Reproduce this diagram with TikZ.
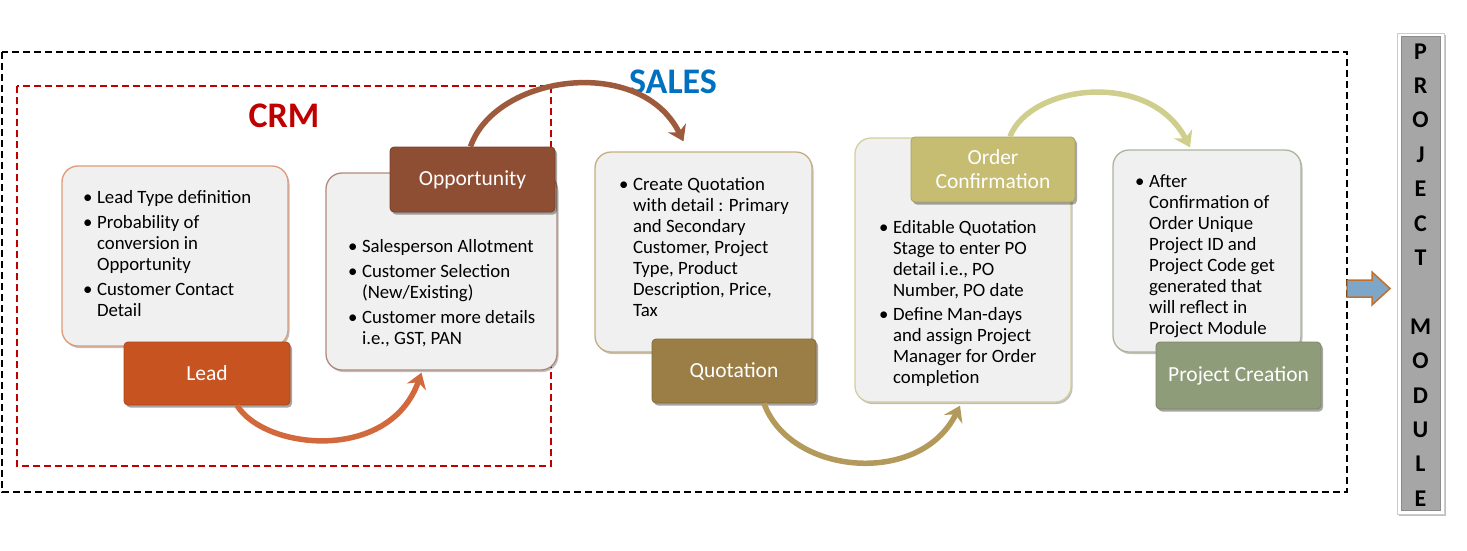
\documentclass[tikz,border=0pt]{standalone}
\usepackage{fontspec}
\setmainfont{Carlito}
\usetikzlibrary{arrows.meta,shadows}
\definecolor{boxgray}{HTML}{F0F0F0}
\definecolor{crmred}{HTML}{C00000}
\definecolor{salesblue}{HTML}{0070C0}
\definecolor{leadc}{HTML}{C75320}
\definecolor{leadb}{HTML}{DE9A78}
\definecolor{oppc}{HTML}{8E4E33}
\definecolor{oppb}{HTML}{B08A78}
\definecolor{quoc}{HTML}{9B7D46}
\definecolor{quob}{HTML}{C6AE7C}
\definecolor{ordc}{HTML}{C6BD72}
\definecolor{ordb}{HTML}{D6CE9E}
\definecolor{prjc}{HTML}{8F9C7A}
\definecolor{prjb}{HTML}{A9B59A}
\definecolor{arc1}{HTML}{D2693C}
\definecolor{arc2}{HTML}{9E5A3C}
\definecolor{arc3}{HTML}{B39A5A}
\definecolor{arc4}{HTML}{D0CE8C}
\definecolor{arrblue}{HTML}{7EA6C8}
\definecolor{arrorange}{HTML}{C0712D}
\definecolor{pmgray}{HTML}{A6A6A6}
\begin{document}
\begin{tikzpicture}[x=1pt,y=-1pt,
  detail/.style={draw=#1, fill=boxgray, line width=1.3pt, rounded corners=16pt, inner sep=0pt,
    drop shadow={shadow xshift=1.5pt, shadow yshift=-2pt, opacity=0.25, fill=black}},
  stage/.style={fill=#1, draw=#1!85!black, line width=0.8pt, rounded corners=4pt, text=white,
    inner sep=0pt, align=center, font=\fontsize{21.5}{24}\selectfont,
    drop shadow={shadow xshift=2pt, shadow yshift=-2.5pt, opacity=0.35, fill=black}},
  txt/.style={anchor=north west, inner sep=0pt, font=\fontsize{18.8}{21}\selectfont},
  flow/.style={draw=#1, line width=5.5pt, -{Stealth[length=15pt,width=20pt]}},
  title/.style={font=\fontsize{36}{40}\selectfont\bfseries, inner sep=0pt}]
\useasboundingbox (0,0) rectangle (1467,550);

% frames
\draw[line width=1.8pt, dash pattern=on 7pt off 4pt] (2,52) rectangle (1347,492);
\draw[crmred, line width=1.5pt, dash pattern=on 7pt off 4pt] (17,86) rectangle (551,466);

\node[title, text=crmred] (crm) at (284,116) {CRM};
\node[title, text=salesblue] (sales) at (673,82) {SALES};

% Lead
\node[detail=leadb, minimum width=226pt, minimum height=180pt] (leaddet) at (175,256) {};
\node[txt] (leadtxt) at (83,189) {\begin{tabular}{@{}c@{\hspace{4.5pt}}l@{}}
\textbullet & Lead Type definition\\[4pt]
\textbullet & Probability of\\ & conversion in\\ & Opportunity\\[4pt]
\textbullet & Customer Contact\\ & Detail
\end{tabular}};
\node[stage=leadc, minimum width=166pt, minimum height=63pt] (leadlab) at (207,373.5) {Lead};

% Opportunity
\node[detail=oppb, minimum width=231pt, minimum height=197pt] (oppdet) at (441.5,271.5) {};
\node[txt] (opptxt) at (348,238) {\begin{tabular}{@{}c@{\hspace{4.5pt}}l@{}}
\textbullet & Salesperson Allotment\\[4pt]
\textbullet & Customer Selection\\ & (New/Existing)\\[4pt]
\textbullet & Customer more details\\ & i.e., GST, PAN
\end{tabular}};
\node[stage=oppc, minimum width=165pt, minimum height=65pt] (opplab) at (472.5,179.5) {Opportunity};

% Quotation
\node[detail=quob, minimum width=217pt, minimum height=200pt] (quodet) at (703.5,252) {};
\node[txt] (quotxt) at (619,176) {\begin{tabular}{@{}c@{\hspace{4.5pt}}l@{}}
\textbullet & Create Quotation\\ & with detail : Primary\\ & and Secondary\\ & Customer, Project\\ & Type, Product\\ & Description, Price,\\ & Tax
\end{tabular}};
\node[stage=quoc, minimum width=164pt, minimum height=64pt] (quolab) at (734,371) {Quotation};

% Order confirmation
\node[detail=ordb, minimum width=216pt, minimum height=264pt] (orddet) at (963,270) {};
\node[txt] (ordtxt) at (879,219) {\begin{tabular}{@{}c@{\hspace{4.5pt}}l@{}}
\textbullet & Editable Quotation\\ & Stage to enter PO\\ & detail i.e., PO\\ & Number, PO date\\[3pt]
\textbullet & Define Man-days\\ & and assign Project\\ & Manager for Order\\ & completion
\end{tabular}};
\node[stage=ordc, minimum width=164pt, minimum height=65pt] (ordlab) at (993,169.5) {Order\\Confirmation};

% Project creation
\node[detail=prjb, minimum width=188pt, minimum height=202pt] (prjdet) at (1207,251) {};
\node[txt] (prjtxt) at (1135,173) {\begin{tabular}{@{}c@{\hspace{4.5pt}}l@{}}
\textbullet & After\\ & Confirmation of\\ & Order Unique\\ & Project ID and\\ & Project Code get\\ & generated that\\ & will reflect in\\ & Project Module
\end{tabular}};
\node[stage=prjc, minimum width=165pt, minimum height=67pt] (prjlab) at (1238.5,375.5) {Project Creation};

% flow arcs
\draw[flow=arc1] ([xshift=30pt]leadlab.south) .. controls +(28,45) and +(-32,90) .. ([xshift=-20pt,yshift=-2pt]oppdet.south);
\draw[flow=arc2] ([xshift=-2pt]opplab.north) .. controls +(25,-72) and +(-43,-87) .. ([xshift=-20pt,yshift=10pt]quodet.north);
\draw[flow=arc3] ([xshift=30pt]quolab.south) .. controls +(26,72) and +(-40,81) .. ([xshift=-3pt,yshift=-3pt]orddet.south);
\draw[flow=arc4] ([xshift=17pt]ordlab.north) .. controls +(20,-52) and +(-40,-78) .. ([xshift=-17pt,yshift=2pt]prjdet.north);

% project module bar
\node[draw=black!20, fill=white, line width=1pt, minimum width=47pt, minimum height=481pt, inner sep=0pt,
  drop shadow={shadow xshift=1.5pt, shadow yshift=-1.5pt, opacity=0.25, fill=black}] (pmout) at (1420.5,273.5) {};
\node[draw=black!45, fill=pmgray, line width=0.8pt, minimum width=39pt, minimum height=474pt, inner sep=0pt] (pmin) at (1420.5,273.5) {};
\node[align=center, inner sep=0pt, font=\fontsize{24}{34.4}\selectfont\bfseries] (pm) at (1420.5,275) {P\\R\\O\\J\\E\\C\\T\\\mbox{}\\M\\O\\D\\U\\L\\E};

% right arrow
\draw[fill=arrblue, draw=arrorange, line width=1.5pt, line join=miter]
  (1347,280) -- (1372,280) -- (1372,272) -- (1390,288.5) -- (1372,305) -- (1372,297) -- (1347,297) -- cycle;
\end{tikzpicture}
\end{document}
